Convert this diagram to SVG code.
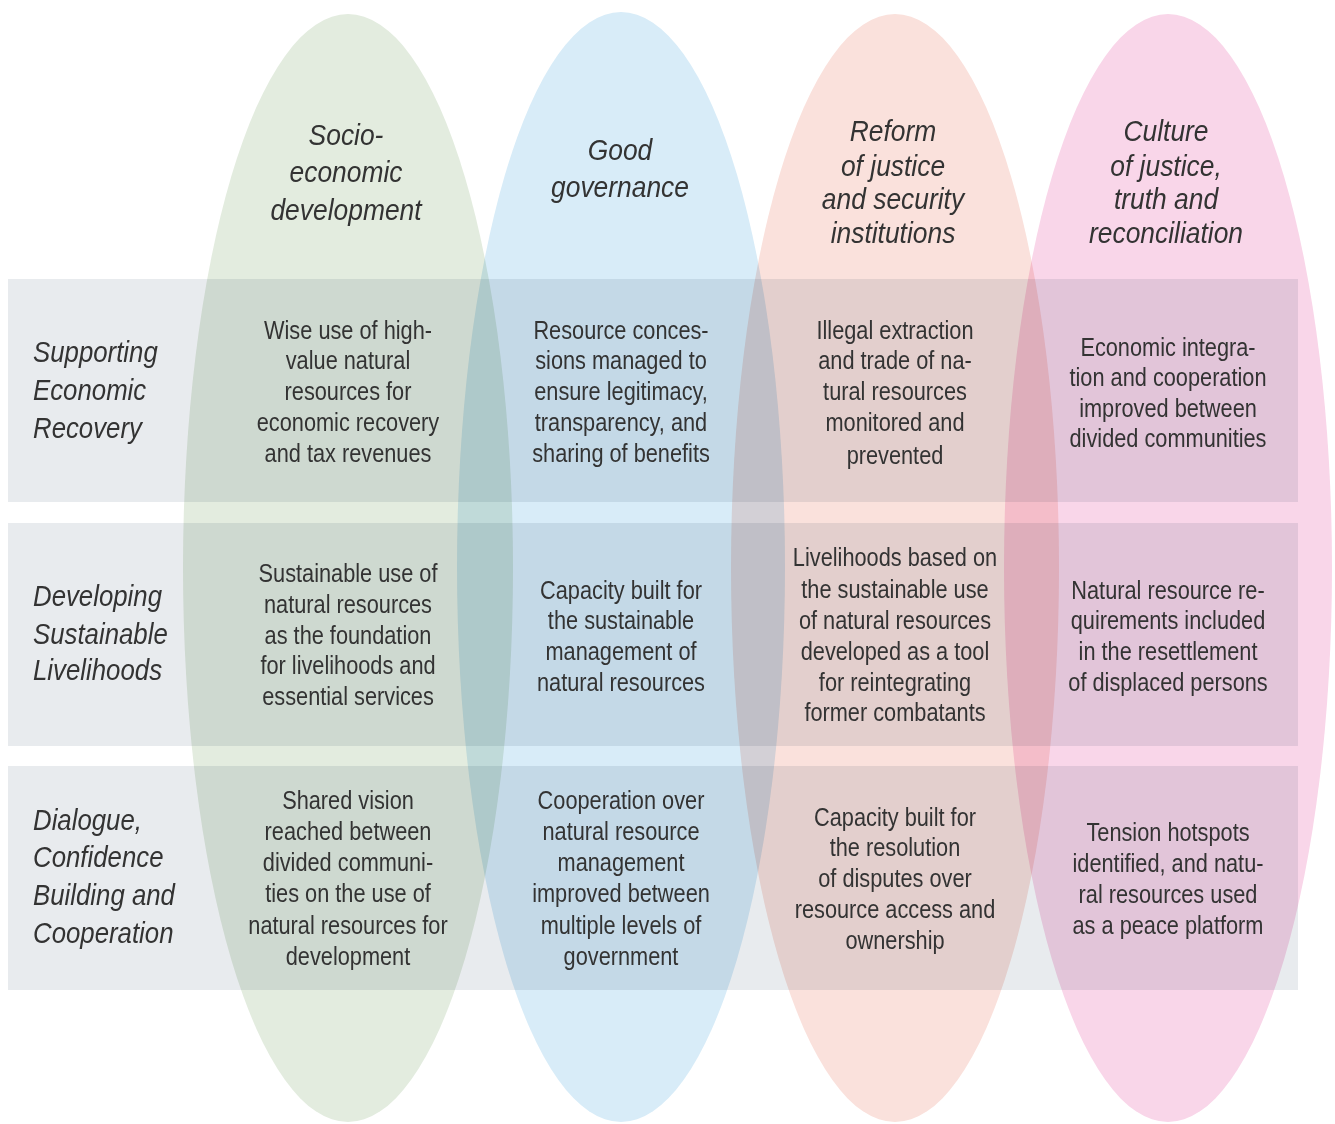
<svg xmlns="http://www.w3.org/2000/svg" width="1335" height="1124" viewBox="0 0 1335 1124">
  <style>
    .lobe { mix-blend-mode: multiply; }
    .band { fill: #e8ebee; mix-blend-mode: multiply; }
    .head { font-family: "Liberation Sans", Arial, sans-serif; font-style: italic; font-size: 30px; fill: #333333; text-anchor: middle; }
    .row  { font-family: "Liberation Sans", Arial, sans-serif; font-style: italic; font-size: 30px; fill: #333333; text-anchor: start; }
    .cell { font-family: "Liberation Sans", Arial, sans-serif; font-size: 25px; fill: #333333; text-anchor: middle; }
  </style>
  <rect width="1335" height="1124" fill="#ffffff"/>

  <g style="isolation:isolate">
    <!-- column lobes -->
    <g id="col-socio">
      <ellipse class="lobe" cx="348" cy="568" rx="165" ry="554" fill="#e3ecdf"/>
    </g>
    <g id="col-governance">
      <ellipse class="lobe" cx="621" cy="567" rx="164" ry="555" fill="#d8ecf8"/>
    </g>
    <g id="col-justice-reform">
      <ellipse class="lobe" cx="895" cy="568" rx="164" ry="554" fill="#fae1dc"/>
    </g>
    <g id="col-reconciliation">
      <ellipse class="lobe" cx="1168" cy="568" rx="164" ry="554" fill="#f9d6e9"/>
    </g>

    <!-- row bands -->
    <g id="row-economic"><rect class="band" x="8" y="279" width="1290" height="223"/></g>
    <g id="row-livelihoods"><rect class="band" x="8" y="523" width="1290" height="223"/></g>
    <g id="row-dialogue"><rect class="band" x="8" y="766" width="1290" height="224"/></g>
  </g>

  <!-- column headings -->
  <g id="head-socio" transform="translate(346 0) scale(0.88 1)">
    <text class="head" x="0" y="145">Socio-</text>
    <text class="head" x="0" y="182">economic</text>
    <text class="head" x="0" y="220">development</text>
  </g>
  <g id="head-governance" transform="translate(620 0) scale(0.88 1)">
    <text class="head" x="0" y="160">Good</text>
    <text class="head" x="0" y="197">governance</text>
  </g>
  <g id="head-justice-reform" transform="translate(893 0) scale(0.88 1)">
    <text class="head" x="0" y="141">Reform</text>
    <text class="head" x="0" y="176">of justice</text>
    <text class="head" x="0" y="209">and security</text>
    <text class="head" x="0" y="243">institutions</text>
  </g>
  <g id="head-reconciliation" transform="translate(1166 0) scale(0.88 1)">
    <text class="head" x="0" y="141">Culture</text>
    <text class="head" x="0" y="176">of justice,</text>
    <text class="head" x="0" y="209">truth and</text>
    <text class="head" x="0" y="243">reconciliation</text>
  </g>

  <!-- row labels -->
  <g id="label-economic" transform="translate(33 0) scale(0.86 1)">
    <text class="row" x="0" y="362">Supporting</text>
    <text class="row" x="0" y="400">Economic</text>
    <text class="row" x="0" y="438">Recovery</text>
  </g>
  <g id="label-livelihoods" transform="translate(33 0) scale(0.86 1)">
    <text class="row" x="0" y="606">Developing</text>
    <text class="row" x="0" y="644">Sustainable</text>
    <text class="row" x="0" y="680">Livelihoods</text>
  </g>
  <g id="label-dialogue" transform="translate(33 0) scale(0.86 1)">
    <text class="row" x="0" y="830">Dialogue,</text>
    <text class="row" x="0" y="867">Confidence</text>
    <text class="row" x="0" y="905">Building and</text>
    <text class="row" x="0" y="943">Cooperation</text>
  </g>

  <!-- row 1 cells -->
  <g id="cell-r1-c1" transform="translate(348 0) scale(0.87 1)">
    <text class="cell" x="0" y="339">Wise use of high-</text>
    <text class="cell" x="0" y="369">value natural</text>
    <text class="cell" x="0" y="400">resources for</text>
    <text class="cell" x="0" y="431">economic recovery</text>
    <text class="cell" x="0" y="462">and tax revenues</text>
  </g>
  <g id="cell-r1-c2" transform="translate(621 0) scale(0.87 1)">
    <text class="cell" x="0" y="339">Resource conces-</text>
    <text class="cell" x="0" y="369">sions managed to</text>
    <text class="cell" x="0" y="400">ensure legitimacy,</text>
    <text class="cell" x="0" y="431">transparency, and</text>
    <text class="cell" x="0" y="462">sharing of benefits</text>
  </g>
  <g id="cell-r1-c3" transform="translate(895 0) scale(0.87 1)">
    <text class="cell" x="0" y="339">Illegal extraction</text>
    <text class="cell" x="0" y="369">and trade of na-</text>
    <text class="cell" x="0" y="400">tural resources</text>
    <text class="cell" x="0" y="431">monitored and</text>
    <text class="cell" x="0" y="464">prevented</text>
  </g>
  <g id="cell-r1-c4" transform="translate(1168 0) scale(0.87 1)">
    <text class="cell" x="0" y="356">Economic integra-</text>
    <text class="cell" x="0" y="386">tion and cooperation</text>
    <text class="cell" x="0" y="417">improved between</text>
    <text class="cell" x="0" y="447">divided communities</text>
  </g>

  <!-- row 2 cells -->
  <g id="cell-r2-c1" transform="translate(348 0) scale(0.87 1)">
    <text class="cell" x="0" y="582">Sustainable use of</text>
    <text class="cell" x="0" y="613">natural resources</text>
    <text class="cell" x="0" y="644">as the foundation</text>
    <text class="cell" x="0" y="674">for livelihoods and</text>
    <text class="cell" x="0" y="705">essential services</text>
  </g>
  <g id="cell-r2-c2" transform="translate(621 0) scale(0.87 1)">
    <text class="cell" x="0" y="599">Capacity built for</text>
    <text class="cell" x="0" y="629">the sustainable</text>
    <text class="cell" x="0" y="660">management of</text>
    <text class="cell" x="0" y="691">natural resources</text>
  </g>
  <g id="cell-r2-c3" transform="translate(895 0) scale(0.87 1)">
    <text class="cell" x="0" y="566">Livelihoods based on</text>
    <text class="cell" x="0" y="598">the sustainable use</text>
    <text class="cell" x="0" y="629">of natural resources</text>
    <text class="cell" x="0" y="660">developed as a tool</text>
    <text class="cell" x="0" y="691">for reintegrating</text>
    <text class="cell" x="0" y="721">former combatants</text>
  </g>
  <g id="cell-r2-c4" transform="translate(1168 0) scale(0.87 1)">
    <text class="cell" x="0" y="599">Natural resource re-</text>
    <text class="cell" x="0" y="629">quirements included</text>
    <text class="cell" x="0" y="660">in the resettlement</text>
    <text class="cell" x="0" y="691">of displaced persons</text>
  </g>

  <!-- row 3 cells -->
  <g id="cell-r3-c1" transform="translate(348 0) scale(0.87 1)">
    <text class="cell" x="0" y="809">Shared vision</text>
    <text class="cell" x="0" y="840">reached between</text>
    <text class="cell" x="0" y="871">divided communi-</text>
    <text class="cell" x="0" y="902">ties on the use of</text>
    <text class="cell" x="0" y="934">natural resources for</text>
    <text class="cell" x="0" y="965">development</text>
  </g>
  <g id="cell-r3-c2" transform="translate(621 0) scale(0.87 1)">
    <text class="cell" x="0" y="809">Cooperation over</text>
    <text class="cell" x="0" y="840">natural resource</text>
    <text class="cell" x="0" y="871">management</text>
    <text class="cell" x="0" y="902">improved between</text>
    <text class="cell" x="0" y="934">multiple levels of</text>
    <text class="cell" x="0" y="965">government</text>
  </g>
  <g id="cell-r3-c3" transform="translate(895 0) scale(0.87 1)">
    <text class="cell" x="0" y="826">Capacity built for</text>
    <text class="cell" x="0" y="856">the resolution</text>
    <text class="cell" x="0" y="887">of disputes over</text>
    <text class="cell" x="0" y="918">resource access and</text>
    <text class="cell" x="0" y="949">ownership</text>
  </g>
  <g id="cell-r3-c4" transform="translate(1168 0) scale(0.87 1)">
    <text class="cell" x="0" y="841">Tension hotspots</text>
    <text class="cell" x="0" y="872">identified, and natu-</text>
    <text class="cell" x="0" y="903">ral resources used</text>
    <text class="cell" x="0" y="934">as a peace platform</text>
  </g>
</svg>
